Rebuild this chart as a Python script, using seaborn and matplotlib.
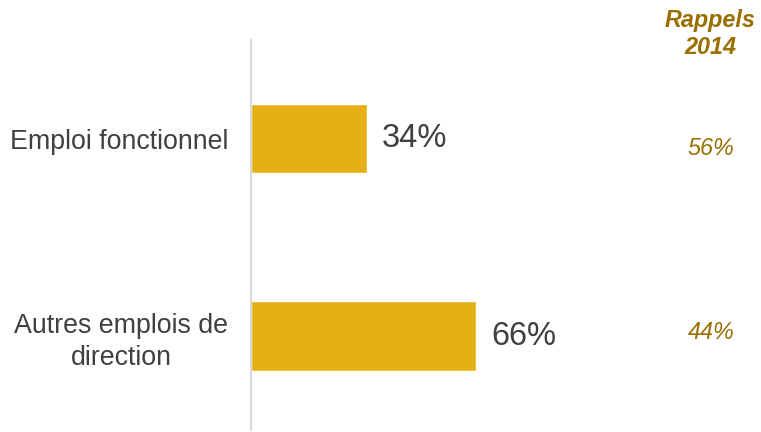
import matplotlib
matplotlib.use('Agg')
import matplotlib.pyplot as plt
import matplotlib.transforms as mtransforms
import seaborn as sns
import pandas as pd

# Data
categories = ['Emploi fonctionnel', 'Autres emplois de\ndirection']
shares = [34, 66]
rappels_2014 = ['56%', '44%']
rappels_title = 'Rappels\n2014'

bar_color = '#E6B014'
gold_text = '#9A6F00'
dark_text = '#404040'

sns.set_theme(style='white')
plt.rcParams['font.family'] = ['Liberation Sans', 'DejaVu Sans']

W, H = 761, 432
fig = plt.figure(figsize=(W / 100, H / 100), dpi=100)
ax = fig.add_axes([251 / W, 1 - 430 / H, 510 / W, 390 / H])

df = pd.DataFrame({'categorie': categories, 'part': shares})
sns.barplot(data=df, x='part', y='categorie', orient='h', color=bar_color,
            width=0.35, saturation=1, ax=ax)

ax.set_xlim(0, 149.5)
ax.set_ylim(1.476, -0.499)
ax.set_xlabel('')
ax.set_ylabel('')
ax.set_xticks([])

for side in ['top', 'right', 'bottom']:
    ax.spines[side].set_visible(False)
ax.spines['left'].set_color('#D9D9D9')
ax.spines['left'].set_linewidth(1.5)

ax.tick_params(axis='y', length=0, pad=16.5)
for lab in ax.get_yticklabels():
    lab.set_fontsize(19.3)
    lab.set_color(dark_text)
    lab.set_ha('right')
    lab.set_multialignment('center')
    lab.set_linespacing(1.3)

ax.bar_label(ax.containers[0], labels=[f'{v}%' for v in shares],
             padding=11, fontsize=23.5, color=dark_text)

# Right-hand column: 2014 reminders
trans = mtransforms.blended_transform_factory(fig.transFigure, ax.transData)
for i, txt in enumerate(rappels_2014):
    ax.text(711 / W, i + (0.05 if i == 0 else -0.02), txt, transform=trans,
            ha='center', va='center', fontsize=16.8, style='italic',
            color=gold_text)
fig.text(710 / W, 1 - 34 / H, rappels_title, ha='center', va='center',
         fontsize=16.8, style='italic', weight='bold', color=gold_text,
         linespacing=1.25)

fig.savefig('out.png', dpi=100)
